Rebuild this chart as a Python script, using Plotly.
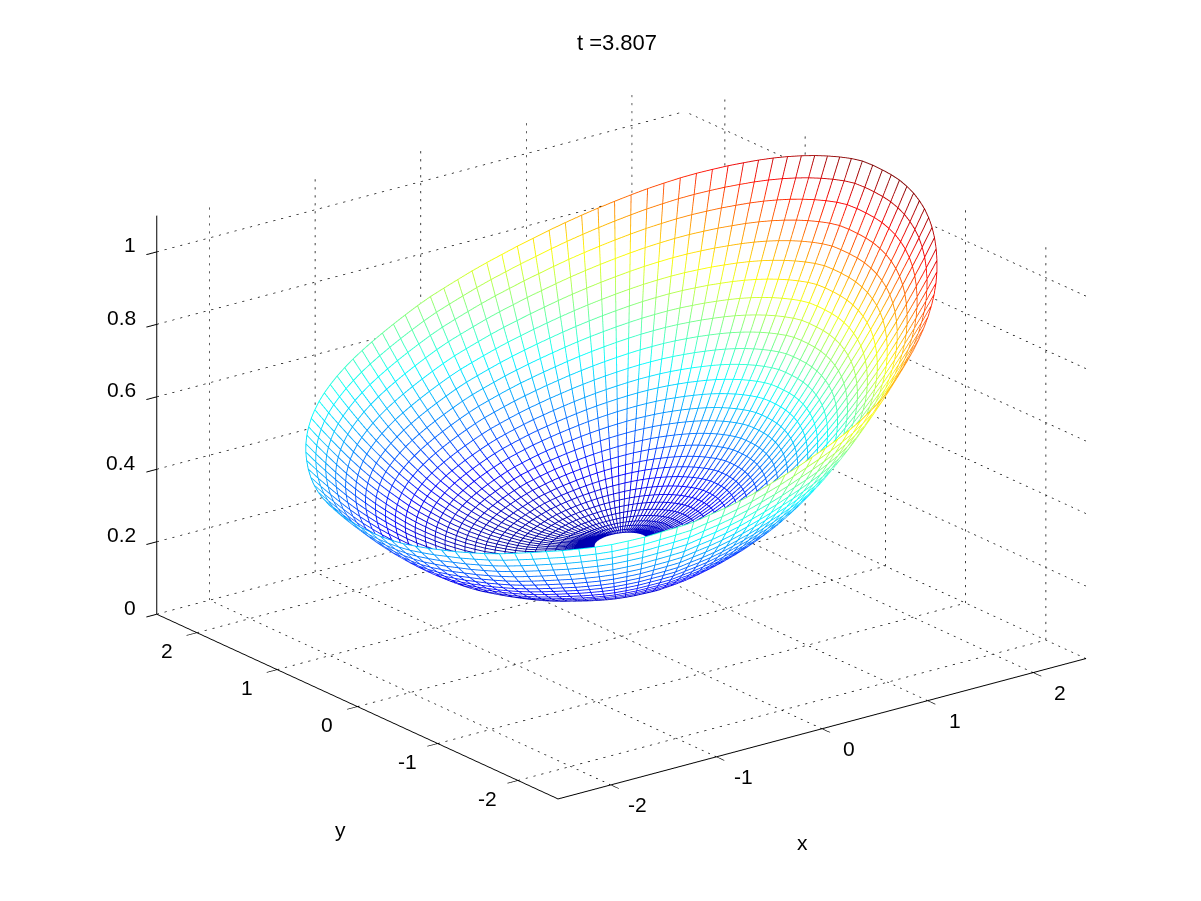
import numpy as np
import plotly.graph_objects as go

x_ticks = [-2, -1, 0, 1, 2]
y_ticks = [-2, -1, 0, 1, 2]
z_ticks = [0, 0.2, 0.4, 0.6, 0.8, 1]
x_range = [-2.5, 2.5]
y_range = [-2.5, 2.5]
z_top = 1.1          # where the drawn z axis and grid stop
z_range = [0, 1.13]  # scene range, a little taller so the rim tops are not clipped

# Mesh: one radius, height and rim share per ring, one rim height per
# 3-degree spoke; a node is ring height + ring share of (spoke rim height - last ring height).
ring_r = [.205,.28,.355,.43,.505,.58,.655,.73,.805,.88,.955,1.03,1.105,1.18,1.255,1.33,1.405,1.48,1.555,1.63,1.705,1.78,1.855,1.93,2.005,2.08,2.155,2.23,2.305,2.38]
ring_h = [.256,.252,.249,.247,.247,.249,.253,.258,.265,.274,.284,.295,.308,.322,.338,.355,.374,.394,.415,.438,.463,.489,.516,.545,.575,.607,.641,.676,.712,.750]
ring_share = [.025,.040,.058,.077,.098,.120,.144,.170,.197,.225,.254,.285,.316,.349,.383,.418,.454,.490,.528,.567,.606,.647,.688,.730,.773,.817,.862,.907,.953,1]
spoke_deg = list(range(0, 361, 3))
spoke_rim = [1.116,1.115,1.110,1.103,1.095,1.086,1.076,1.065,1.053,1.040,1.026,1.012,.997,.982,.966,.949,.932,.914,.896,.878,
             .860,.842,.824,.806,.789,.772,.756,.740,.724,.709,.695,.680,.665,.651,.638,.626,.615,.605,.595,.586,
             .577,.569,.561,.553,.545,.537,.530,.522,.515,.508,.500,.493,.487,.483,.480,.478,.476,.475,.474,.473,
             .473,.473,.474,.476,.480,.484,.489,.493,.498,.503,.509,.516,.523,.530,.536,.543,.550,.558,.568,.578,
             .590,.601,.612,.628,.642,.657,.673,.690,.706,.722,.738,.752,.766,.780,.794,.810,.825,.845,.865,.885,
             .903,.921,.938,.954,.970,.985,1.000,1.015,1.031,1.047,1.062,1.075,1.086,1.095,1.102,1.108,1.112,1.115,1.116,1.116,
             1.116]

title_text = "t =3.807"
jet = [[0,"rgb(0,0,143)"],[.125,"rgb(0,0,255)"],[.375,"rgb(0,255,255)"],[.625,"rgb(255,255,0)"],[.875,"rgb(255,0,0)"],[1,"rgb(128,0,0)"]]

r = np.array(ring_r); th = np.radians(spoke_deg)
X = np.outer(r, np.cos(th)); Y = np.outer(r, np.sin(th))
Z = np.array(ring_h)[:,None] + np.outer(ring_share, np.array(spoke_rim) - ring_h[-1])

zoom = 1.472
zfac = 0.6416*zoom*z_range[1]/1.1
aspect = dict(x=zoom, y=zoom, z=zfac)
d = np.array([-0.567, -0.746, 0.35]); d = d/np.linalg.norm(d)
rv = np.array([0.793, -0.605, 0.0]); uv = np.array([0.212, 0.279, 0.937])
dist = 2.0
center = -(13/453)*rv - (27.0/453)*uv
eye = center + d*dist

fig = go.Figure()
eps = 0.004
fig.add_trace(go.Surface(x=X-eps*d[0]*5/zoom, y=Y-eps*d[1]*5/zoom, z=Z-eps*d[2]*z_range[1]/zfac,
    colorscale=[[0,"white"],[1,"white"]], showscale=False, hoverinfo="skip",
    lighting=dict(ambient=1, diffuse=0, specular=0, roughness=1, fresnel=0)))

lx, ly, lz = [], [], []
for i in range(X.shape[0]):
    lx += list(X[i]) + [None]; ly += list(Y[i]) + [None]; lz += list(Z[i]) + [None]
for j in range(X.shape[1]-1):
    lx += list(X[:,j]) + [None]; ly += list(Y[:,j]) + [None]; lz += list(Z[:,j]) + [None]
fig.add_trace(go.Scatter3d(x=lx, y=ly, z=lz, mode="lines", hoverinfo="skip", showlegend=False,
    line=dict(color=[v if v is not None else 0 for v in lz], colorscale=jet, cmin=float(Z.min()), cmax=float(Z.max()), width=1.8)))

gx, gy, gz = [], [], []
def seg(a, b, n):
    a = np.array(a, float); b = np.array(b, float)
    for k in range(n):
        p = a + (b-a)*k/n; q2 = a + (b-a)*(k+0.28)/n
        gx.extend([p[0], q2[0], None]); gy.extend([p[1], q2[1], None]); gz.extend([p[2], q2[2], None])
xa, xb = x_range; ya, yb = y_range
for t in x_ticks:
    seg((t, ya, 0), (t, yb, 0), 62); seg((t, yb, 0), (t, yb, z_top), 50)
for t in y_ticks:
    seg((xa, t, 0), (xb, t, 0), 68); seg((xb, t, 0), (xb, t, z_top), 50)
for t in z_ticks:
    seg((xa, yb, t), (xb, yb, t), 68); seg((xb, ya, t), (xb, yb, t), 62)
fig.add_trace(go.Scatter3d(x=gx, y=gy, z=gz, mode="lines", hoverinfo="skip", showlegend=False,
    line=dict(color="black", width=1.4)))
fig.add_trace(go.Scatter3d(x=[xa, xa], y=[yb, yb], z=[0, z_top], mode="lines", hoverinfo="skip", showlegend=False,
    line=dict(color="black", width=2)))

def ax(rng, ticks, line=True):
    return dict(title=dict(text=""), range=rng, tickmode="array", tickvals=ticks, showticklabels=False,
        showgrid=False, showbackground=False, zeroline=False, showline=line, linecolor="black", linewidth=2,
        ticks="outside", ticklen=13, tickcolor="black", tickwidth=2, showspikes=False, autorange=False)

font = dict(family="Liberation Sans", size=21, color="black")
ann = []
def label(px, py, pz, text, xs, ys, anchor="center"):
    ann.append(dict(x=px, y=py, z=pz, text=text, showarrow=False, xshift=xs, yshift=ys, xanchor=anchor, yanchor="middle", font=font))
for t in z_ticks:
    label(x_range[0], y_range[1], t, "%g" % t, -19, 7, "right")
for t in y_ticks:
    label(x_range[0], t, 0, "%g" % t, -30, -18)
for t in x_ticks:
    label(t, y_range[0], 0, "%g" % t, 27, -20)
label(0, y_range[0], 0, "x", -20, -114)
label(x_range[0], 0, 0, "y", -17, -123)

fig.update_layout(width=1201, height=901, margin=dict(l=0, r=0, t=0, b=0), paper_bgcolor="white",
    showlegend=False,
    title=dict(text=title_text, x=609/1201, y=1-34/901, xanchor="center", yanchor="middle", font=dict(family="Liberation Sans", size=22, color="black")),
    scene=dict(xaxis=ax(x_range, x_ticks), yaxis=ax(y_range, y_ticks), zaxis=ax(z_range, z_ticks, False),
        aspectmode="manual", aspectratio=aspect, domain=dict(x=[0,1], y=[0,1]), annotations=ann,
        camera=dict(projection=dict(type="orthographic"), up=dict(x=0,y=0,z=1),
            center=dict(x=center[0], y=center[1], z=center[2]),
            eye=dict(x=eye[0], y=eye[1], z=eye[2]))))
fig.write_html("out.html")
